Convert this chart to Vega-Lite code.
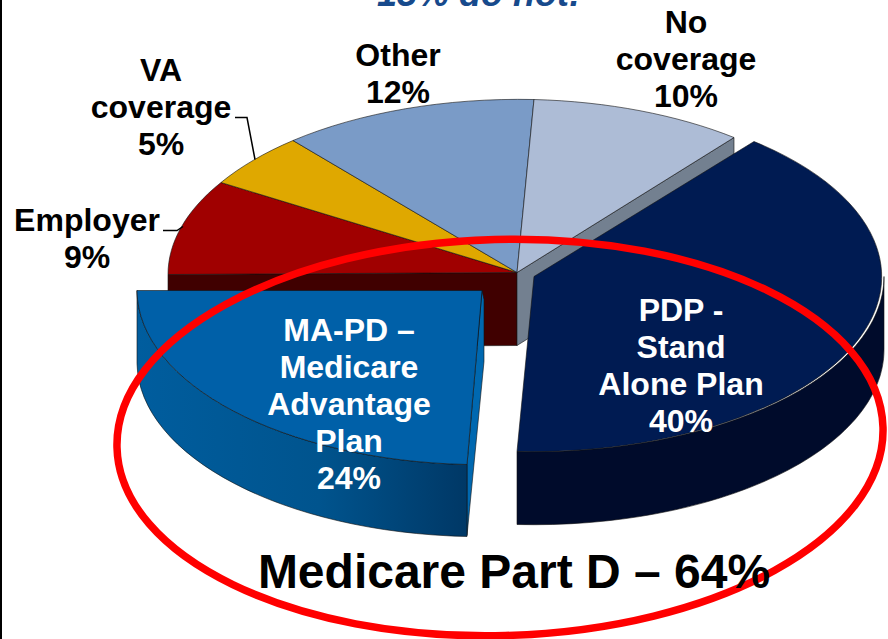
{
  "$schema": "https://vega.github.io/schema/vega-lite/v6.json",
  "width": 888,
  "height": 639,
  "autosize": {"type": "none"},
  "padding": 0,
  "background": "white",
  "view": {"stroke": null},
  "config": {"font": "Liberation Sans"},
  "data": {"values": [
    {"slice": "Employer", "share": 9, "label": "Employer\n9%"},
    {"slice": "VA coverage", "share": 5, "label": "VA\ncoverage\n5%"},
    {"slice": "Other", "share": 12, "label": "Other\n12%"},
    {"slice": "No coverage", "share": 10, "label": "No\ncoverage\n10%"},
    {"slice": "PDP", "share": 40, "label": "PDP -\nStand\nAlone Plan\n40%"},
    {"slice": "MA-PD", "share": 24, "label": "MA-PD –\nMedicare\nAdvantage\nPlan\n24%"}
  ]},
  "resolve": {"scale": {"shape": "independent", "fill": "independent"}},
  "layer": [
    {
      "mark": {"type": "rule", "stroke": "black", "strokeWidth": 2},
      "data": {"values": [{"edge": "frame"}]},
      "encoding": {"x": {"value": 1}}
    },
    {
      "name": "walls",
      "transform": [{"filter": {"field": "slice", "oneOf": ["Employer", "No coverage", "MA-PD"]}}],
      "mark": {"type": "point", "filled": true, "size": 4, "opacity": 1, "stroke": "#101010", "strokeWidth": 0.6},
      "encoding": {
        "shape": {"field": "slice", "type": "nominal", "legend": null, "scale": {
          "domain": ["Employer", "No coverage", "MA-PD"],
          "range": [
            "M73 -47 L-276 -45 L-276 28 L73 26 Z",
            "M73 -47 L290 -182 L290 -109 L73 26 Z",
            "M38 -29 L23 145 L23 216 L40 42 L40 -20 Z"
          ]}},
        "fill": {"field": "slice", "type": "nominal", "legend": null, "scale": {
          "domain": ["Employer", "No coverage", "MA-PD"],
          "range": ["#400000", "#738090", "#0068b0"]}}
      }
    },
    {
      "name": "side PDP",
      "transform": [{"filter": {"field": "slice", "equal": "PDP"}}],
      "mark": {"type": "point", "filled": true, "size": 4, "opacity": 1, "fill": "#000b2b", "stroke": "#101010", "strokeWidth": 0.6},
      "encoding": {
        "shape": {"field": "slice", "type": "nominal", "legend": null, "scale": {
          "domain": ["PDP"],
          "range": ["M440 -43 L440 30 A350 175 0 0 1 73 205 L73 132 A350 175 0 0 0 440 -43 Z"]}}
      }
    },
    {
      "name": "side MA-PD",
      "transform": [{"filter": {"field": "slice", "equal": "MA-PD"}}],
      "mark": {"type": "point", "filled": true, "size": 4, "opacity": 1, "stroke": "#101010", "strokeWidth": 0.6,
        "fill": {"gradient": "linear", "x1": 0, "y1": 0, "x2": 1, "y2": 0, "stops": [
          {"offset": 0, "color": "#005d9e"},
          {"offset": 0.55, "color": "#00548e"},
          {"offset": 1, "color": "#003866"}
        ]}},
      "encoding": {
        "shape": {"field": "slice", "type": "nominal", "legend": null, "scale": {
          "domain": ["MA-PD"],
          "range": ["M-307 -29 A345 175 0 0 0 23 145 L23 217 A345 175 0 0 1 -307 44 Z"]}}
      }
    },
    {
      "name": "tops",
      "mark": {"type": "point", "filled": true, "size": 4, "opacity": 1, "stroke": "#101010", "strokeWidth": 0.6},
      "encoding": {
        "shape": {"field": "slice", "type": "nominal", "legend": null, "scale": {
          "domain": ["Employer", "VA coverage", "Other", "No coverage", "PDP", "MA-PD"],
          "range": [
            "M73 -47 L-276 -45 A350 174 0 0 1 -223 -137 Z",
            "M73 -47 L-223 -137 A350 174 0 0 1 -151 -179 Z",
            "M73 -47 L-151 -179 A350 174 0 0 1 90 -220 Z",
            "M73 -47 L90 -220 A350 174 0 0 1 290 -182 Z",
            "M90 -43 L310 -178 A350 175 0 0 1 73 132 Z",
            "M38 -29 L-307 -29 A345 175 0 0 0 23 145 Z"
          ]}},
        "fill": {"field": "slice", "type": "nominal", "legend": null, "scale": {
          "domain": ["Employer", "VA coverage", "Other", "No coverage", "PDP", "MA-PD"],
          "range": ["#a00000", "#dfa800", "#7a9bc7", "#adbcd6", "#001b52", "#0060a8"]}}
      }
    },
    {
      "name": "leaders",
      "transform": [{"filter": {"field": "slice", "oneOf": ["Employer", "VA coverage"]}}],
      "mark": {"type": "point", "filled": false, "size": 4, "opacity": 1, "stroke": "black", "strokeWidth": 1.5},
      "encoding": {
        "shape": {"field": "slice", "type": "nominal", "legend": null, "scale": {
          "domain": ["Employer", "VA coverage"],
          "range": ["M-281 -89 L-267 -89 L-261 -93", "M-209 -202 L-197 -202 L-189 -160"]}}
      }
    },
    {
      "name": "ring",
      "data": {"values": [{"group": "Medicare Part D", "share": 64, "label": "Medicare Part D – 64%"}]},
      "mark": {"type": "point", "filled": false, "size": 4, "opacity": 1, "stroke": "#ff0000", "strokeWidth": 7.5},
      "encoding": {
        "shape": {"field": "group", "type": "nominal", "legend": null, "scale": {
          "domain": ["Medicare Part D"],
          "range": ["M-327 128 A383 198 -1.5 1 1 439 108 A383 198 -1.5 1 1 -327 128 Z"]}}
      }
    },
    {
      "transform": [{"filter": {"field": "slice", "equal": "Employer"}}],
      "mark": {"type": "text", "font": "Liberation Sans", "fontWeight": "bold", "fontSize": 32, "lineHeight": 37, "lineBreak": "\n", "baseline": "alphabetic", "align": "center", "color": "black"},
      "encoding": {"text": {"field": "label"}, "x": {"value": 87}, "y": {"value": 231}}
    },
    {
      "transform": [{"filter": {"field": "slice", "equal": "VA coverage"}}],
      "mark": {"type": "text", "font": "Liberation Sans", "fontWeight": "bold", "fontSize": 32, "lineHeight": 37, "lineBreak": "\n", "baseline": "alphabetic", "align": "center", "color": "black"},
      "encoding": {"text": {"field": "label"}, "x": {"value": 161}, "y": {"value": 81}}
    },
    {
      "transform": [{"filter": {"field": "slice", "equal": "Other"}}],
      "mark": {"type": "text", "font": "Liberation Sans", "fontWeight": "bold", "fontSize": 32, "lineHeight": 37, "lineBreak": "\n", "baseline": "alphabetic", "align": "center", "color": "black"},
      "encoding": {"text": {"field": "label"}, "x": {"value": 398}, "y": {"value": 66}}
    },
    {
      "transform": [{"filter": {"field": "slice", "equal": "No coverage"}}],
      "mark": {"type": "text", "font": "Liberation Sans", "fontWeight": "bold", "fontSize": 32, "lineHeight": 37, "lineBreak": "\n", "baseline": "alphabetic", "align": "center", "color": "black"},
      "encoding": {"text": {"field": "label"}, "x": {"value": 686}, "y": {"value": 33}}
    },
    {
      "transform": [{"filter": {"field": "slice", "equal": "PDP"}}],
      "mark": {"type": "text", "font": "Liberation Sans", "fontWeight": "bold", "fontSize": 32, "lineHeight": 37, "lineBreak": "\n", "baseline": "alphabetic", "align": "center", "color": "white"},
      "encoding": {"text": {"field": "label"}, "x": {"value": 681}, "y": {"value": 321}}
    },
    {
      "transform": [{"filter": {"field": "slice", "equal": "MA-PD"}}],
      "mark": {"type": "text", "font": "Liberation Sans", "fontWeight": "bold", "fontSize": 32, "lineHeight": 37, "lineBreak": "\n", "baseline": "alphabetic", "align": "center", "color": "white"},
      "encoding": {"text": {"field": "label"}, "x": {"value": 349}, "y": {"value": 341}}
    },
    {
      "data": {"values": [{"label": "Medicare Part D – 64%"}]},
      "mark": {"type": "text", "font": "Liberation Sans", "fontWeight": "bold", "fontSize": 48, "baseline": "alphabetic", "align": "center", "color": "black"},
      "encoding": {"text": {"field": "label"}, "x": {"value": 514}, "y": {"value": 588}}
    },
    {
      "data": {"values": [{"label": "15% do not!"}]},
      "mark": {"type": "text", "font": "Liberation Sans", "fontWeight": "bold", "fontStyle": "italic", "fontSize": 36, "baseline": "alphabetic", "align": "center", "color": "#174a8c"},
      "encoding": {"text": {"field": "label"}, "x": {"value": 479}, "y": {"value": 6}}
    }
  ]
}
